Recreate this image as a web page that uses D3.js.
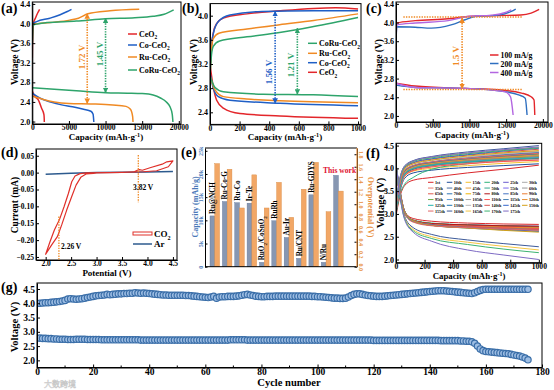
<!DOCTYPE html>
<html><head><meta charset="utf-8">
<script src="https://cdn.jsdelivr.net/npm/d3@7"></script>
<style>
body{margin:0;background:#fff;}
svg{display:block;}
</style></head><body>
<script>
// ---------------- DATA ----------------
// (a) full discharge/charge, capacity (mAh/g) vs voltage (V)
const aNames = ["CeO2","Co-CeO2","Ru-CeO2","CoRu-CeO2"];
const aCharge = [
  [[0,3.3],[60,3.85],[150,4.0],[450,4.12],[750,4.22],[1000,4.29]],
  [[0,3.6],[80,4.0],[600,4.04],[2400,4.11],[3800,4.18],[4700,4.24],[5350,4.29]],
  [[0,3.6],[100,3.98],[2400,4.02],[5100,4.07],[6300,4.11],[7600,4.2],[10600,4.26],[14600,4.29]],
  [[0,3.6],[100,3.97],[2000,4.02],[6000,4.05],[10000,4.1],[14000,4.12],[16500,4.15],[18000,4.19],[19300,4.28]]
];
const aDischarge = [
  [[0,2.62],[360,2.51],[820,2.44],[1270,2.27],[1590,2.14],[1630,2.05],[1640,1.99]],
  [[0,2.58],[1000,2.48],[2500,2.4],[4000,2.34],[5500,2.3],[7000,2.25],[8000,2.21],[8300,2.15],[8400,1.99]],
  [[0,2.52],[1500,2.45],[3000,2.4],[5000,2.37],[8000,2.36],[11000,2.34],[12800,2.31],[13400,2.25],[13700,2.1],[13750,1.99]],
  [[0,2.69],[3000,2.66],[6000,2.63],[10000,2.59],[13000,2.58],[15000,2.57],[16500,2.54],[17500,2.48],[18300,2.4],[18800,2.3],[19100,2.15],[19200,1.99]]
];
// (b) limited capacity 1000 mAh/g
const bNames = ["CoRu-CeO2","Ru-CeO2","Co-CeO2","CeO2"];
const bCharge = [
  [[0,3.0],[10,3.35],[22,3.49],[65,3.58],[250,3.65],[470,3.72],[700,3.82],[1000,3.97]],
  [[0,3.0],[10,3.45],[22,3.62],[60,3.71],[250,3.78],[470,3.85],[700,3.92],[1000,4.03]],
  [[0,3.1],[10,3.5],[22,3.7],[55,3.9],[135,4.01],[350,4.07],[700,4.08],[1000,4.08]],
  [[0,3.02],[10,3.5],[22,3.71],[45,3.87],[90,3.96],[250,4.03],[470,4.08],[700,4.12],[850,4.13],[1000,4.11]]
];
const bDischarge = [
  [[0,3.0],[34,2.81],[90,2.74],[360,2.7],[697,2.69],[1000,2.66]],
  [[0,3.0],[34,2.77],[90,2.66],[247,2.62],[472,2.59],[1000,2.56]],
  [[0,3.05],[22,2.8],[56,2.66],[135,2.6],[472,2.55],[1000,2.51]],
  [[0,3.2],[22,2.82],[45,2.6],[90,2.47],[202,2.38],[472,2.34],[1000,2.3]]
];
// (c) rates
const cNames = ["100 mA/g","200 mA/g","400 mA/g"];
const cCharge = [
  [[0,3.5],[100,3.99],[2600,4.04],[7100,4.08],[9800,4.13],[13900,4.15],[17000,4.16],[18400,4.2],[19500,4.28]],
  [[0,3.5],[100,3.91],[2600,3.9],[4800,3.88],[7500,3.95],[9400,4.06],[10700,4.13],[13900,4.16],[15700,4.24],[16300,4.29]],
  [[0,3.5],[100,3.95],[2600,3.99],[7100,4.04],[9800,4.13],[13000,4.16],[14800,4.21],[15700,4.27]]
];
const cDischarge = [
  [[0,2.7],[2600,2.64],[9400,2.59],[13900,2.56],[17100,2.49],[18400,2.41],[18800,2.34],[18900,2.02]],
  [[0,2.66],[2600,2.61],[9400,2.59],[14800,2.52],[16700,2.45],[17600,2.38],[17850,2.02]],
  [[0,2.7],[2600,2.61],[9400,2.59],[14800,2.52],[15600,2.41],[15950,2.02]]
];
// (d) CV, potential (V) vs current (mA)
const dCO2 = [[2.938,-0.002],[2.794,-0.004],[2.689,-0.014],[2.597,-0.037],[2.512,-0.071],[2.413,-0.111],[2.315,-0.155],[2.23,-0.19],[2.118,-0.214],[2.0,-0.242],
  [2.085,-0.205],[2.171,-0.17],[2.269,-0.14],[2.361,-0.101],[2.446,-0.062],[2.512,-0.027],[2.577,-0.01],[2.676,-0.003],[2.807,-0.001],
  [3.2,0.0],[3.5,0.001],[3.73,0.002],[3.8,0.007],[3.84,0.009],[3.9,0.007],[4.05,0.0145],[4.29,0.025],[4.38,0.032],[4.5,0.035],
  [4.41,0.0174],[4.18,0.0056],[3.92,0.0026],[3.5,0.001],[3.0,-0.001],[2.938,-0.002]];
const dAr = [[2.0,-0.005],[2.5,-0.002],[3.0,0.0],[3.5,0.001],[4.0,0.002],[4.5,0.003]];
// (e) comparison
const eCats = ["Ru@NCH","Ru-Co-G","Ru-Co","Ir-Te","RuO2/CoSnO2","RuRh","Au-Ir","Ru/CNT","Ru-GDYS","N/Ru","This work"];
const eCapacity = [10950,14050,13800,13700,940,9900,6300,1800,15500,940,19700];
const eOverpot = [1.65,1.56,0.94,1.47,0.94,1.35,0.79,1.24,1.67,0.88,1.21];
const eLeftTicks = ["0","5k","10k","15k","20k","25k"];
// (f) cycles profiles
const fCap = [0,25,60,120,250,500,750,1000];
const fCycles = ["1st","10th","15th","20th","25th","30th","35th","40th","45th","50th","55th","60th","65th","70th","75th","80th","85th","90th","95th","100th","105th","110th","115th","120th","125th","130th","135th","140th","145th","150th","155th","160th","165th","170th","175th"];
const fColors = ["#d9262b","#1f4e99","#f2c12e","#2fb37a","#6a5acd","#a9a9a9",
  "#ec7a6e","#4a6fa5","#e8a33d","#36a88f","#7b68ee","#9a9a9a",
  "#e05a4f","#2e75b6","#f0b400","#b0151b","#4472c4","#ed7d31",
  "#70ad47","#5b9bd5","#a5a5a5","#ff5050","#4682b4","#e69138",
  "#20b2aa","#1f77b4","#b8b8b8","#d9534f","#3366cc","#d4a017",
  "#e06666","#3d5a99","#f5c542","#3cb371","#7e6bc4"];
const fCharge = [
  [2.95,3.35,3.62,3.74,3.80,3.90,3.98,4.07],[3.00,3.45,3.78,3.90,3.96,4.02,4.06,4.10],
  [3.05,3.50,3.82,3.94,4.00,4.06,4.11,4.15],[3.00,3.40,3.65,3.80,3.98,4.10,4.18,4.24],
  [3.10,3.55,3.88,4.00,4.08,4.17,4.25,4.31],[3.10,3.55,3.90,4.02,4.10,4.20,4.28,4.33],
  [3.15,3.60,3.95,4.06,4.14,4.24,4.32,4.37],[3.15,3.60,3.93,4.04,4.12,4.22,4.29,4.34],
  [3.10,3.55,3.90,4.02,4.10,4.18,4.24,4.29],[3.10,3.55,3.88,4.00,4.09,4.17,4.23,4.28],
  [3.10,3.55,3.88,4.00,4.08,4.16,4.22,4.26],[3.05,3.50,3.85,3.97,4.05,4.12,4.17,4.21],
  [3.05,3.50,3.86,3.98,4.06,4.13,4.18,4.22],[3.10,3.55,3.88,4.00,4.07,4.15,4.20,4.24],
  [3.15,3.60,3.92,4.04,4.12,4.20,4.26,4.31],[3.05,3.50,3.86,3.98,4.06,4.14,4.19,4.23],
  [3.10,3.55,3.88,4.00,4.08,4.15,4.21,4.25],[3.10,3.55,3.89,4.01,4.08,4.16,4.21,4.25],
  [3.10,3.55,3.88,4.00,4.08,4.15,4.21,4.25],[3.10,3.55,3.88,4.00,4.07,4.15,4.20,4.24],
  [3.05,3.50,3.84,3.96,4.04,4.11,4.16,4.19],[3.05,3.50,3.83,3.95,4.03,4.10,4.15,4.18],
  [3.15,3.62,3.95,4.06,4.14,4.23,4.30,4.35],[3.10,3.58,3.92,4.03,4.11,4.19,4.24,4.28],
  [3.05,3.52,3.87,3.99,4.07,4.14,4.19,4.23],[3.15,3.60,3.94,4.05,4.13,4.21,4.27,4.32],
  [3.20,3.65,3.98,4.09,4.17,4.25,4.32,4.37],[3.20,3.68,4.00,4.12,4.20,4.29,4.36,4.42],
  [3.20,3.70,4.02,4.13,4.21,4.30,4.38,4.44],[3.20,3.66,3.99,4.10,4.18,4.27,4.34,4.39],
  [3.15,3.62,3.95,4.06,4.14,4.22,4.28,4.33],[3.25,3.75,4.05,4.17,4.26,4.36,4.43,4.50],
  [3.25,3.72,4.04,4.15,4.24,4.33,4.40,4.46],[3.25,3.72,4.03,4.15,4.23,4.32,4.39,4.45],
  [3.25,3.74,4.05,4.16,4.25,4.34,4.41,4.47]
];
const fDischarge = [
  [3.95,3.45,3.05,2.90,2.84,2.80,2.78,2.77],[3.98,3.48,3.02,2.86,2.79,2.76,2.74,2.73],
  [3.98,3.48,3.03,2.86,2.79,2.75,2.73,2.72],[4.00,3.50,3.04,2.87,2.80,2.76,2.74,2.72],
  [4.02,3.52,3.05,2.86,2.78,2.74,2.72,2.70],[4.02,3.52,3.04,2.85,2.77,2.73,2.71,2.69],
  [4.05,3.55,3.06,2.86,2.78,2.74,2.72,2.70],[4.03,3.53,3.05,2.86,2.78,2.74,2.72,2.71],
  [4.00,3.50,3.04,2.85,2.77,2.73,2.70,2.68],[4.00,3.50,3.04,2.85,2.77,2.73,2.71,2.69],
  [3.98,3.48,3.03,2.85,2.77,2.72,2.70,2.68],[3.97,3.47,3.02,2.84,2.76,2.72,2.69,2.67],
  [3.97,3.47,3.02,2.85,2.78,2.74,2.72,2.71],[3.98,3.48,3.03,2.85,2.77,2.73,2.70,2.68],
  [4.03,3.53,3.05,2.86,2.78,2.73,2.71,2.69],[3.97,3.47,3.02,2.86,2.79,2.76,2.74,2.73],
  [3.98,3.48,3.03,2.84,2.76,2.71,2.68,2.66],[3.98,3.48,3.03,2.84,2.75,2.70,2.67,2.64],
  [3.98,3.48,3.03,2.85,2.77,2.72,2.69,2.67],[3.97,3.47,3.02,2.84,2.76,2.71,2.68,2.66],
  [3.95,3.45,3.01,2.83,2.75,2.70,2.67,2.65],[3.95,3.45,3.01,2.84,2.77,2.73,2.70,2.68],
  [4.05,3.55,3.06,2.85,2.76,2.71,2.67,2.64],[4.00,3.50,3.04,2.84,2.75,2.70,2.66,2.63],
  [3.97,3.47,3.02,2.84,2.76,2.71,2.68,2.65],[4.02,3.52,3.05,2.84,2.75,2.69,2.65,2.62],
  [4.05,3.55,3.06,2.85,2.76,2.70,2.66,2.63],[4.08,3.57,3.07,2.86,2.77,2.72,2.68,2.66],
  [4.10,3.58,3.07,2.85,2.76,2.70,2.66,2.62],[4.06,3.55,3.06,2.85,2.75,2.69,2.64,2.60],
  [4.02,3.52,3.00,2.82,2.74,2.70,2.67,2.64],[4.12,3.50,2.95,2.70,2.55,2.43,2.35,2.28],
  [4.10,3.48,2.92,2.66,2.50,2.38,2.29,2.21],[4.10,3.45,2.90,2.63,2.46,2.33,2.23,2.15],
  [4.12,3.45,2.88,2.60,2.40,2.21,2.10,2.00]
];
// (g) terminal voltages per cycle (cycles 1..175)
const gCharge = [
 4.00,4.01,4.02,4.02,4.03,4.04,4.05,4.06,4.08,4.10,
 4.15,4.16,4.15,4.14,4.15,4.16,4.18,4.20,4.22,4.24,
 4.26,4.27,4.28,4.29,4.31,4.30,4.31,4.32,4.33,4.33,
 4.34,4.34,4.35,4.35,4.37,4.36,4.35,4.36,4.35,4.34,
 4.33,4.32,4.31,4.30,4.29,4.29,4.28,4.28,4.28,4.28,
 4.28,4.28,4.27,4.27,4.26,4.25,4.24,4.23,4.22,4.21,
 4.20,4.22,4.24,4.18,4.22,4.23,4.23,4.24,4.24,4.24,
 4.25,4.26,4.28,4.30,4.31,4.29,4.27,4.25,4.24,4.23,
 4.23,4.24,4.24,4.24,4.25,4.25,4.25,4.25,4.25,4.25,
 4.25,4.25,4.25,4.25,4.25,4.25,4.25,4.24,4.24,4.23,
 4.23,4.22,4.21,4.20,4.19,4.18,4.18,4.17,4.17,4.18,
 4.22,4.27,4.31,4.33,4.33,4.31,4.29,4.27,4.26,4.25,
 4.24,4.24,4.24,4.25,4.26,4.27,4.28,4.29,4.30,4.31,
 4.32,4.33,4.34,4.35,4.36,4.37,4.38,4.39,4.40,4.41,
 4.42,4.43,4.44,4.44,4.44,4.43,4.42,4.41,4.40,4.39,
 4.38,4.37,4.36,4.35,4.34,4.37,4.41,4.45,4.48,4.49,
 4.49,4.49,4.49,4.49,4.49,4.49,4.49,4.49,4.49,4.49,
 4.49,4.49,4.49,4.49,4.49];
const gDischarge = [
 2.78,2.77,2.77,2.76,2.76,2.75,2.75,2.74,2.74,2.74,
 2.73,2.73,2.73,2.74,2.74,2.74,2.74,2.73,2.73,2.73,
 2.73,2.73,2.72,2.72,2.72,2.72,2.72,2.72,2.72,2.72,
 2.72,2.72,2.72,2.72,2.72,2.72,2.71,2.71,2.71,2.71,
 2.71,2.71,2.71,2.71,2.71,2.71,2.71,2.71,2.71,2.71,
 2.71,2.71,2.71,2.71,2.71,2.71,2.71,2.71,2.71,2.71,
 2.71,2.71,2.71,2.71,2.71,2.71,2.71,2.71,2.72,2.72,
 2.72,2.72,2.72,2.72,2.71,2.71,2.71,2.71,2.71,2.71,
 2.71,2.71,2.71,2.71,2.71,2.71,2.71,2.71,2.71,2.71,
 2.71,2.71,2.71,2.71,2.71,2.71,2.71,2.71,2.71,2.71,
 2.71,2.71,2.71,2.71,2.71,2.71,2.71,2.71,2.71,2.71,
 2.71,2.71,2.71,2.71,2.71,2.71,2.71,2.71,2.71,2.70,
 2.70,2.70,2.70,2.70,2.70,2.70,2.70,2.70,2.70,2.70,
 2.70,2.70,2.70,2.70,2.70,2.70,2.70,2.70,2.70,2.70,
 2.70,2.70,2.70,2.69,2.69,2.69,2.69,2.69,2.69,2.69,
 2.68,2.68,2.67,2.67,2.65,2.60,2.50,2.40,2.34,2.31,
 2.30,2.29,2.28,2.27,2.26,2.25,2.24,2.23,2.21,2.19,
 2.17,2.15,2.12,2.08,2.02];

// ---------------- DRAWING ----------------
const FONT = '"Liberation Serif","Times New Roman",serif';
const svg = d3.select('body').append('svg').attr('width',554).attr('height',390)
  .style('font-family',FONT).style('font-weight','bold');
const defs = svg.append('defs');

function styleAxis(a,fs,color){
  a.attr('font-family',FONT).attr('font-size',fs);
  a.selectAll('text').attr('font-size',fs).attr('font-weight','bold').attr('fill',color||'#000').attr('font-family',FONT);
  a.selectAll('line').attr('stroke','#000');
  a.select('.domain').attr('stroke','#000');
}
function mkPanel(p){
  const x = d3.scaleLinear().domain(p.xd).range([p.l,p.r]);
  const y = d3.scaleLinear().domain(p.yd).range([p.b,p.t]);
  const g = svg.append('g');
  const cid = 'clip'+p.id;
  defs.append('clipPath').attr('id',cid).append('rect')
    .attr('x',p.l).attr('y',p.t).attr('width',p.r-p.l).attr('height',p.b-p.t);
  const plot = g.append('g').attr('clip-path',`url(#${cid})`);
  const fs = p.fs||7.6;
  const ax = g.append('g').attr('transform',`translate(0,${p.b})`)
    .call(d3.axisBottom(x).tickValues(p.xt).tickFormat(p.xf).tickSize(-3).tickPadding(1).tickSizeOuter(0));
  styleAxis(ax,fs);
  const ay = g.append('g').attr('transform',`translate(${p.l},0)`)
    .call(d3.axisLeft(y).tickValues(p.yt).tickFormat(p.yf).tickSize(-3).tickPadding(2).tickSizeOuter(0));
  styleAxis(ay,p.fsy||fs);
  g.append('rect').attr('x',p.l).attr('y',p.t).attr('width',p.r-p.l).attr('height',p.b-p.t)
    .attr('fill','none').attr('stroke','#000').attr('stroke-width',1);
  return {x,y,g,plot,b:p.b};
}
function rich(t, parts, fs){
  let shift = 0;
  parts.forEach(([s,k])=>{
    const ts = t.append('tspan').text(s);
    const target = k==='sub' ? fs*0.3 : (k==='sup' ? -fs*0.35 : 0);
    if(target!==shift){ ts.attr('dy', target-shift); shift = target; }
    if(k!=='n') ts.attr('font-size', fs*0.68);
  });
  return t;
}
function label(x,y,parts,fs,opt={}){
  const t = svg.append('text').attr('font-size',fs).attr('font-family',FONT).attr('font-weight','bold')
    .attr('fill',opt.fill||'#000').attr('text-anchor',opt.anchor||'start');
  if(opt.rot) t.attr('transform',`translate(${x},${y}) rotate(${opt.rot})`);
  else t.attr('x',x).attr('y',y);
  if(typeof parts==='string') t.text(parts); else rich(t,parts,fs);
  return t;
}
function subName(s){
  const parts=[]; let buf='';
  for(const ch of s){
    if(ch==='2' && /[O]$/.test(buf)){ parts.push([buf,'n']); parts.push(['2','sub']); buf=''; }
    else buf+=ch;
  }
  if(buf) parts.push([buf,'n']);
  return parts;
}
const capTitle = [['Capacity (mAh·g','n'],['-1','sup'],[')','n']];
function arrowMarker(id,color){
  defs.append('marker').attr('id',id).attr('viewBox','0 0 10 10').attr('refX',9).attr('refY',5)
    .attr('markerWidth',3.5).attr('markerHeight',3.5).attr('orient','auto-start-reverse')
    .append('path').attr('d','M0,0L10,5L0,10z').attr('fill',color);
}
function dArrow(parent,x1,y1,x2,y2,color,id){
  parent.append('line').attr('x1',x1).attr('y1',y1).attr('x2',x2).attr('y2',y2)
    .attr('stroke',color).attr('stroke-width',1.6).attr('stroke-dasharray','1.4,1.2')
    .attr('marker-start',`url(#${id})`).attr('marker-end',`url(#${id})`);
}
const ORANGE='#f08a24', GREEN='#2ea46b', BLUE='#1f5fc6', RED='#e3262b', PURPLE='#b366e0';
arrowMarker('arO',ORANGE); arrowMarker('arG',GREEN); arrowMarker('arB',BLUE);
const f1 = d3.format('.1f');

// ---- (a) ----
{
  const P = mkPanel({id:'a',l:32.3,r:181,t:2,b:124,xd:[0,20300],yd:[1.95,4.44],
    xt:[0,5000,10000,15000,20000],xf:d3.format('d'),yt:[2.0,2.4,2.8,3.2,3.6,4.0,4.4],yf:f1,fsy:8});
  const cols=[RED,BLUE,ORANGE,GREEN];
  const line=d3.line().x(d=>P.x(d[0])).y(d=>P.y(d[1])).curve(d3.curveMonotoneX);
  aCharge.forEach((s,i)=>P.plot.append('path').attr('d',line(s)).attr('fill','none').attr('stroke',cols[i]).attr('stroke-width',1.5));
  aDischarge.forEach((s,i)=>P.plot.append('path').attr('d',line(s)).attr('fill','none').attr('stroke',cols[i]).attr('stroke-width',1.5));
  dArrow(P.g,P.x(7500),P.y(4.20),P.x(7500),P.y(2.37),ORANGE,'arO');
  dArrow(P.g,P.x(10000),P.y(4.11),P.x(10000),P.y(2.59),GREEN,'arG');
  label(P.x(7500)-2.5,57,'1.72 V',9,{fill:ORANGE,rot:-90,anchor:'middle'});
  label(P.x(10000)-2.5,54,'1.45 V',9,{fill:GREEN,rot:-90,anchor:'middle'});
  aNames.forEach((n,i)=>{
    const yy=[34,45,57,70][i];
    svg.append('line').attr('x1',128).attr('x2',137).attr('y1',yy).attr('y2',yy).attr('stroke',cols[i]).attr('stroke-width',1.5);
    label(139,yy+3,subName(n),8);
  });
  label(106,139.8,capTitle,9,{anchor:'middle'});
  label(17.5,62,'Voltage (V)',9.5,{rot:-90,anchor:'middle'});
  label(1,12.5,'(a)',14);
}
// ---- (b) ----
{
  const P = mkPanel({id:'b',l:210,r:361,t:3.6,b:124.4,xd:[0,1020],yd:[2.2,4.2],
    xt:[0,200,400,600,800,1000],xf:d3.format('d'),yt:[2.4,2.8,3.2,3.6,4.0],yf:f1,fsy:8});
  const cols=[GREEN,ORANGE,BLUE,RED];
  const line=d3.line().x(d=>P.x(d[0])).y(d=>P.y(d[1])).curve(d3.curveMonotoneX);
  [3,2,1,0].forEach(i=>{
    P.plot.append('path').attr('d',line(bCharge[i])).attr('fill','none').attr('stroke',cols[i]).attr('stroke-width',1.5);
    P.plot.append('path').attr('d',line(bDischarge[i])).attr('fill','none').attr('stroke',cols[i]).attr('stroke-width',1.5);
  });
  dArrow(P.g,P.x(440),P.y(4.07),P.x(440),P.y(2.55),BLUE,'arB');
  dArrow(P.g,P.x(590),P.y(3.79),P.x(590),P.y(2.70),GREEN,'arG');
  label(P.x(440)-3,72,'1.56 V',9,{fill:BLUE,rot:-90,anchor:'middle'});
  label(P.x(590)-3,65,'1.21 V',9,{fill:GREEN,rot:-90,anchor:'middle'});
  bNames.forEach((n,i)=>{
    const yy=[43.3,53.3,62.7,72.3][i];
    svg.append('line').attr('x1',308).attr('x2',317).attr('y1',yy).attr('y2',yy).attr('stroke',cols[i]).attr('stroke-width',1.5);
    label(319,yy+3,subName(n),8);
  });
  label(285,139.8,capTitle,9,{anchor:'middle'});
  label(196.5,62,'Voltage (V)',9.5,{rot:-90,anchor:'middle'});
  label(182,12.5,'(b)',14);
}
// ---- (c) ----
{
  const P = mkPanel({id:'c',l:396,r:548,t:2,b:122,xd:[0,20700],yd:[1.87,4.44],
    xt:[0,5000,10000,15000,20000],xf:d3.format('d'),yt:[2.0,2.4,2.8,3.2,3.6,4.0,4.4],yf:f1,fsy:8});
  const cols=[RED,'#2e6fc0',PURPLE];
  const line=d3.line().x(d=>P.x(d[0])).y(d=>P.y(d[1])).curve(d3.curveMonotoneX);
  cCharge.forEach((s,i)=>P.plot.append('path').attr('d',line(s)).attr('fill','none').attr('stroke',cols[i]).attr('stroke-width',1.4));
  cDischarge.forEach((s,i)=>P.plot.append('path').attr('d',line(s)).attr('fill','none').attr('stroke',cols[i]).attr('stroke-width',1.4));
  [[4.12],[2.565]].forEach(([v])=>{
    P.g.append('line').attr('x1',P.x(1000)).attr('x2',P.x(17200)).attr('y1',P.y(v)).attr('y2',P.y(v))
      .attr('stroke',ORANGE).attr('stroke-width',1.6).attr('stroke-dasharray','1.4,1.2');
  });
  dArrow(P.g,P.x(9000),P.y(4.10),P.x(9000),P.y(2.585),ORANGE,'arO');
  label(P.x(9000)-3,56,'1.5 V',9,{fill:ORANGE,rot:-90,anchor:'middle'});
  cNames.forEach((n,i)=>{
    const yy=[55,63.5,72.5][i];
    svg.append('line').attr('x1',490).attr('x2',498.5).attr('y1',yy).attr('y2',yy).attr('stroke',cols[i]).attr('stroke-width',1.5);
    label(500.5,yy+3,n,7.8);
  });
  label(472,138.3,capTitle,9,{anchor:'middle'});
  label(381.5,62,'Voltage (V)',9.5,{rot:-90,anchor:'middle'});
  label(366,13,'(c)',14);
}
// ---- (d) ----
{
  const P = mkPanel({id:'d',l:36,r:177,t:149,b:260,xd:[1.81,4.58],yd:[-0.259,0.07],
    xt:[2.0,2.5,3.0,3.5,4.0,4.5],xf:f1,yt:[0.05,0,-0.05,-0.1,-0.15,-0.2,-0.25],yf:d3.format('.2f'),fs:7.5});
  const line=d3.line().x(d=>P.x(d[0])).y(d=>P.y(d[1]));
  P.plot.append('path').attr('d',line(dAr)).attr('fill','none').attr('stroke','#2d5a8e').attr('stroke-width',1.5);
  P.plot.append('path').attr('d',line(dCO2)).attr('fill','none').attr('stroke','#e0302a').attr('stroke-width',1.2).attr('stroke-linejoin','round');
  [[2.26,-0.13,-0.259],[3.82,0.052,-0.088]].forEach(([v,a,b])=>{
    P.g.append('line').attr('x1',P.x(v)).attr('x2',P.x(v)).attr('y1',P.y(a)).attr('y2',P.y(b))
      .attr('stroke',ORANGE).attr('stroke-width',1.3).attr('stroke-dasharray','1.4,1.2');
  });
  label(61,249,'2.26 V',7.5);
  label(133,190,'3.82 V',7.5);
  svg.append('rect').attr('x',133).attr('y',232).attr('width',19).attr('height',3).attr('fill','none').attr('stroke','#e0302a').attr('stroke-width',1);
  label(154,237,[['CO','n'],['2','sub']],9);
  svg.append('line').attr('x1',133).attr('x2',152).attr('y1',244).attr('y2',244).attr('stroke','#2d5a8e').attr('stroke-width',1.5);
  label(154,247,'Ar',9);
  label(107,275.5,'Potential (V)',9,{anchor:'middle'});
  label(17.5,205,'Current (mA)',9.5,{rot:-90,anchor:'middle'});
  label(1,157,'(d)',14);
}
// ---- (e) ----
{
  const l=205,r=357,t=148,b=266.7;
  const x = d3.scaleBand().domain(eCats).range([208.6,344.6]).paddingInner(0.226).paddingOuter(0.113);
  const yL = d3.scaleLinear().domain([0,25600]).range([b,t]);
  const yR = d3.scaleLinear().domain([0,1.9]).range([b,t]);
  const g = svg.append('g');
  const bw = x.bandwidth()/2;
  g.selectAll('rect.cap').data(eCats).enter().append('rect')
    .attr('x',d=>x(d)).attr('width',bw).attr('y',(d,i)=>yL(eCapacity[i])).attr('height',(d,i)=>b-yL(eCapacity[i]))
    .attr('fill','#8797b2').attr('stroke','#62769a').attr('stroke-width',0.4);
  g.selectAll('rect.ov').data(eCats).enter().append('rect')
    .attr('x',d=>x(d)+bw).attr('width',bw).attr('y',(d,i)=>yR(eOverpot[i])).attr('height',(d,i)=>b-yR(eOverpot[i]))
    .attr('fill','#f2a766').attr('stroke','#d98a42').attr('stroke-width',0.4);
  const aL = g.append('g').attr('transform',`translate(${l},0)`)
    .call(d3.axisLeft(yL).tickValues([0,5000,10000,15000,20000,25000]).tickFormat((d,i)=>eLeftTicks[i]).tickSize(-2.5).tickSizeOuter(0));
  styleAxis(aL,6,'#4a78b8');
  aL.selectAll('.tick text').attr('x',0).attr('y',-1.8).attr('dy',0).attr('text-anchor','middle').attr('transform','rotate(-90)');
  const aR = g.append('g').attr('transform',`translate(${r},0)`)
    .call(d3.axisRight(yR).tickValues([0,0.2,0.4,0.6,0.8,1.0,1.2,1.4,1.6,1.8]).tickFormat(f1).tickSize(-2.5).tickSizeOuter(0));
  styleAxis(aR,6,'#e8903e');
  aR.selectAll('.tick text').attr('x',0).attr('y',-2).attr('dy',0).attr('text-anchor','middle').attr('transform','rotate(90)');
  g.append('line').attr('x1',l).attr('x2',r).attr('y1',b).attr('y2',b).attr('stroke','#000');
  g.append('line').attr('x1',l).attr('x2',r).attr('y1',t).attr('y2',t).attr('stroke','#000');
  g.append('line').attr('x1',r).attr('x2',r).attr('y1',t).attr('y2',b).attr('stroke','#e8903e').attr('stroke-width',1.2);
  eCats.forEach((c,i)=>{
    if(c==='This work') return;
    const cx = x(c)+bw/2;
    const parts = c==='RuO2/CoSnO2' ? [['RuO','n'],['2','sub'],['/CoSnO','n'],['2','sub']] : c;
    label(cx+2.6, yL(eCapacity[i])-2, parts, 7.2, {rot:-90});
  });
  label(323,173,'This work',7.6,{fill:'#e0102f'});
  label(197.5,207,'Capacity (mAh/g)',8,{rot:-90,anchor:'middle',fill:'#4a78b8'});
  label(368,207,'Overpotential (V)',8,{rot:90,anchor:'middle',fill:'#e8903e'});
  label(181,157,'(e)',14);
}
// ---- (f) ----
{
  const P = mkPanel({id:'f',l:396,r:541.7,t:143.3,b:262.7,xd:[0,1020],yd:[1.93,4.55],
    xt:[0,200,400,600,800,1000],xf:d3.format('d'),yt:[2.0,2.5,3.0,3.5,4.0,4.5],yf:f1,fsy:8});
  const line=d3.line().x((d,i)=>P.x(fCap[i])).y(d=>P.y(d)).curve(d3.curveMonotoneX);
  fCycles.forEach((c,i)=>{
    P.plot.append('path').attr('d',line(fCharge[i])).attr('fill','none').attr('stroke',fColors[i]).attr('stroke-width',1);
    P.plot.append('path').attr('d',line(fDischarge[i])).attr('fill','none').attr('stroke',fColors[i]).attr('stroke-width',1);
  });
  fCycles.forEach((c,i)=>{
    const col=i%6,row=Math.floor(i/6);
    const xx=428+col*18.8, yy=182.3+row*5.75;
    svg.append('line').attr('x1',xx).attr('x2',xx+5.5).attr('y1',yy).attr('y2',yy).attr('stroke',fColors[i]).attr('stroke-width',1);
    label(xx+7,yy+1.5,c,4.1);
  });
  label(469,279,capTitle,8.8,{anchor:'middle'});
  label(384,203,'Voltage (V)',10.5,{rot:-90,anchor:'middle'});
  label(366,158,'(f)',14);
}
// ---- (g) ----
{
  const P = mkPanel({id:'g',l:37,r:542,t:283,b:367.5,xd:[0,180],yd:[1.75,4.71],
    xt:[0,20,40,60,80,100,120,140,160,180],xf:d3.format('d'),yt:[2.0,2.5,3.0,3.5,4.0,4.5],yf:f1,fs:9.5});
  d3.range(10,180,20).forEach(v=>{
    P.g.append('line').attr('x1',P.x(v)).attr('x2',P.x(v)).attr('y1',P.b).attr('y2',P.b-2).attr('stroke','#000');
  });
  const draw=(arr)=>P.plot.selectAll(null).data(arr).enter().append('circle')
    .attr('cx',(d,i)=>P.x(i+1)).attr('cy',d=>P.y(d)).attr('r',3.2)
    .attr('fill','#9dbde3').attr('stroke','#3a6ea8').attr('stroke-width',1.2);
  draw(gCharge); draw(gDischarge);
  label(289,386,'Cycle number',10.5,{anchor:'middle'});
  label(18,327,'Voltage (V)',10.5,{rot:-90,anchor:'middle'});
  label(1,292,'(g)',14);
}
svg.append('text').attr('x',44).attr('y',386.5).attr('font-family','"Noto Sans CJK SC"').attr('font-size',8)
  .attr('fill','#fff').attr('stroke','#c8c8c8').attr('stroke-width',0.5).attr('font-weight','normal').text('大数跨境');
</script></body></html>
